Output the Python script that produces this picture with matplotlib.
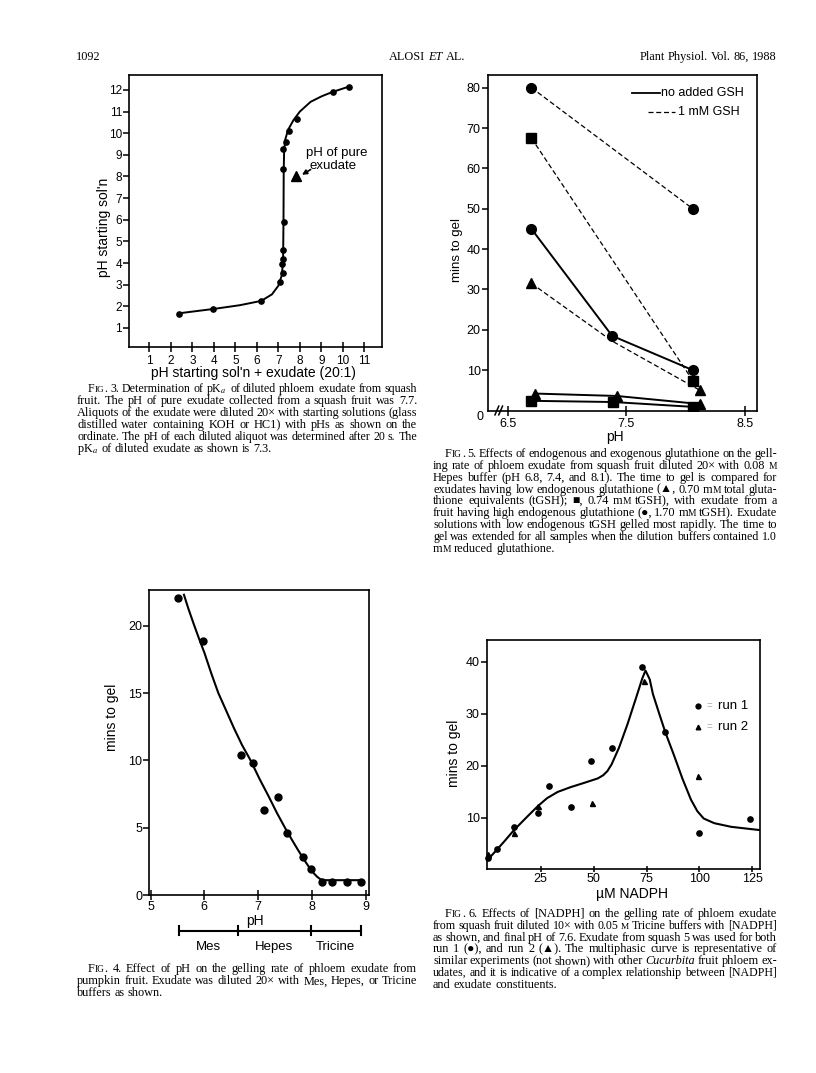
import matplotlib
matplotlib.use('Agg')
import matplotlib.pyplot as plt
import matplotlib.transforms as mtransforms

plt.rcParams['mathtext.fontset'] = 'stix'
SANS = ['Liberation Sans', 'DejaVu Sans']
SERIF = ['Liberation Serif', 'DejaVu Sans']
plt.rcParams['font.family'] = SANS

W, H = 816, 1073

# ---------------- data ----------------
# Fig. 3
f3_x = [2.40, 3.98, 6.19, 7.09, 7.22, 7.15, 7.20, 7.23, 7.25, 7.23, 7.22, 7.34, 7.50, 7.85, 9.56, 10.27]
f3_y = [1.66, 1.86, 2.25, 3.14, 3.54, 3.94, 4.20, 4.60, 5.89, 8.34, 9.26, 9.60, 10.12, 10.66, 11.91, 12.15]
f3_curve_x = [2.40, 4.0, 5.2, 6.2, 6.7, 7.0, 7.15, 7.22, 7.24, 7.25, 7.27, 7.32, 7.45, 7.7, 8.0, 8.5, 9.0, 9.5, 10.27]
f3_curve_y = [1.68, 1.88, 2.05, 2.25, 2.55, 2.95, 3.4, 4.0, 6.0, 8.3, 9.2, 9.7, 10.15, 10.6, 11.0, 11.45, 11.7, 11.9, 12.15]
f3_pure_x, f3_pure_y = [7.82], [8.0]
f3_xticks = list(range(1, 12))
f3_yticks = list(range(1, 13))

# Fig. 5
f5_circ_solid_x = [6.70, 7.38, 8.06]
f5_circ_solid_y = [45.0, 18.5, 10.0]
f5_circ_dash_x = [6.70, 8.06]
f5_circ_dash_y = [80.0, 50.0]
f5_sq_dash_x = [6.70, 8.06]
f5_sq_dash_y = [67.5, 7.4]
f5_tri_dash_x = [6.70, 7.38, 8.12]
f5_tri_dash_y = [31.5, 17.2, 5.0]
f5_tri_solid_x = [6.73, 7.42, 8.12]
f5_tri_solid_y = [4.2, 3.6, 1.6]
f5_sq_solid_x = [6.70, 7.39, 8.06]
f5_sq_solid_y = [2.4, 2.1, 0.9]
f5_xticks = [6.5, 7.5, 8.5]
f5_yticks = [10, 20, 30, 40, 50, 60, 70, 80]

# Fig. 4
f4_x = [5.51, 5.97, 6.69, 6.90, 7.11, 7.38, 7.54, 7.84, 7.98, 8.19, 8.38, 8.66, 8.91]
f4_y = [22.03, 18.86, 10.42, 9.80, 6.31, 7.25, 4.58, 2.85, 1.96, 0.99, 0.99, 0.99, 0.99]
f4_curve_x = [5.62, 5.7, 5.8, 5.9, 6.0, 6.13, 6.26, 6.4, 6.55, 6.7, 6.86, 7.03, 7.2, 7.35, 7.5,
              7.63, 7.75, 7.86, 7.96, 8.04, 8.1, 8.16, 8.22, 8.91]
f4_curve_y = [22.3, 21.3, 20.15, 19.05, 18.0, 16.45, 15.0, 13.75, 12.4, 11.15, 10.0, 8.6, 7.3, 6.1, 5.0,
              4.1, 3.3, 2.6, 2.0, 1.6, 1.35, 1.17, 1.1, 1.1]
f4_buffer_edges = [5.53, 6.63, 7.98, 8.91]
f4_buffers = ['Mes', 'Hepes', 'Tricine']
f4_xticks = [5, 6, 7, 8, 9]
f4_yticks = [0, 5, 10, 15, 20]

# Fig. 6
f6_run1_x = [0, 4.5, 12.2, 23.7, 28.9, 39.3, 48.8, 58.5, 72.9, 83.6, 99.9, 123.9]
f6_run1_y = [2.3, 4.0, 8.2, 11.0, 16.1, 12.2, 21.0, 23.4, 39.0, 26.5, 7.05, 9.75]
f6_run2_x = [0, 12.2, 23.7, 49.4, 73.6, 99.1]
f6_run2_y = [3.0, 7.05, 12.3, 12.9, 36.3, 18.0]
f6_curve_x = [0, 4.5, 8, 12.2, 18, 23.7, 28, 33, 39, 46, 52, 54.5, 56.5, 58.5, 62, 66, 70, 73, 74.5,
              76.5, 78, 81, 84, 88, 92, 96, 99, 102, 107, 115, 128]
f6_curve_y = [2.0, 4.0, 5.6, 7.6, 10.0, 12.3, 13.8, 15.0, 15.9, 16.8, 17.6, 18.2, 19.0, 20.3, 23.5, 28.0, 33.0, 36.8, 38.3,
              36.6, 33.8, 30.0, 26.3, 22.0, 17.5, 13.5, 11.3, 9.9, 9.0, 8.3, 7.7]
f6_xticks = [25, 50, 75, 100, 125]
f6_yticks = [10, 20, 30, 40]

# ---------------- figure ----------------
fig = plt.figure(figsize=(W / 100, H / 100), dpi=100)
renderer = fig.canvas.get_renderer()


def ax_at(x0, y0, x1, y1):
    return fig.add_axes([x0 / W, 1 - y1 / H, (x1 - x0) / W, (y1 - y0) / H])


def fx(px):
    return px / W


def fy(py):
    return 1 - py / H


def style(ax, fs):
    for s in ax.spines.values():
        s.set_linewidth(1.2)
    ax.tick_params(axis='y', direction='out', length=4, width=1.1, pad=1, labelsize=fs)
    ax.tick_params(axis='x', direction='inout', length=7, width=1.1, pad=2, labelsize=fs)


def parse(w):
    segs = []
    cur = ''
    sc = False
    it = False
    for ch in w:
        if ch in '<>~':
            if cur:
                segs.append((cur.upper() if sc else cur, 0.78 if sc else 1.0, it))
                cur = ''
            if ch == '<':
                sc = True
            elif ch == '>':
                sc = False
            else:
                it = not it
        else:
            cur += ch
    if cur:
        segs.append((cur.upper() if sc else cur, 0.78 if sc else 1.0, it))
    return segs


def make_word(w, size):
    items = []
    tot = 0
    for s, scale, it in parse(w):
        t = fig.text(0, 0, s, fontsize=size * scale, family=SERIF,
                     style='italic' if it else 'normal', va='baseline', ha='left')
        wid = t.get_window_extent(renderer).width
        items.append((t, wid))
        tot += wid
    return items, tot


def place_word(items, x, ybase):
    for t, wid in items:
        t.set_position((fx(x), fy(ybase)))
        x += wid


def draw_line(text, x, y, size, align='left'):
    words = text.split(' ')
    built = [make_word(w, size) for w in words]
    space = size * 100 / 72 * 0.25
    total = sum(b[1] for b in built) + space * (len(built) - 1)
    if align == 'center':
        x = x - total / 2
    elif align == 'right':
        x = x - total
    for items, tw in built:
        place_word(items, x, y + size * 0.45)
        x += tw + space


def para(lines, x_left, x_indent, x_right, y0, dy, size=8.8):
    for i, line in enumerate(lines):
        y = y0 + i * dy
        words = line.split(' ')
        start = x_indent if i == 0 else x_left
        last = (i == len(lines) - 1)
        s = size
        while True:
            space = s * 100 / 72 * 0.25
            built = [make_word(w, s) for w in words]
            tot = sum(b[1] for b in built)
            if last or len(built) == 1:
                gap = space
                break
            gap = (x_right - start - tot) / (len(built) - 1)
            if gap >= 0.7 * space or s < 6:
                break
            for items, _ in built:
                for t, _w in items:
                    t.remove()
            s *= 0.97
        x = start
        for items, tw in built:
            place_word(items, x, y + size * 0.45)
            x += tw + gap


# ---------------- header ----------------
draw_line('1092', 76, 56, 8.8, 'left')
draw_line('ALOSI ~ET AL.~', 427, 56, 8.8, 'center')
draw_line('Plant Physiol. Vol. 86, 1988', 777, 56, 8.8, 'right')

# ---------------- Fig. 3 ----------------
ax3 = ax_at(129, 75, 382, 347)
ax3.plot(f3_curve_x, f3_curve_y, color='k', lw=1.4)
ax3.plot(f3_x, f3_y, 'o', color='k', ms=3.8)
ax3.plot(f3_pure_x, f3_pure_y, '^', color='k', ms=7)
ax3.set_xlim(0.056, 11.82)
ax3.set_ylim(0.12, 12.69)
ax3.set_xticks(f3_xticks)
ax3.set_yticks(f3_yticks)
style(ax3, 8.5)
ax3.text(9.7, 9.08, 'pH of pure', ha='center', va='center', fontsize=9.5)
ax3.text(9.55, 8.48, 'exudate', ha='center', va='center', fontsize=9.5)
ax3.annotate('', xy=(8.1, 8.08), xytext=(8.5, 8.32),
             arrowprops=dict(arrowstyle='-|>', lw=1.2, color='k', mutation_scale=7, shrinkA=0, shrinkB=0))
fig.text(fx(104), fy(227), "pH starting sol'n", rotation=90, ha='center', va='center', fontsize=10)
fig.text(fx(253), fy(373), "pH starting sol'n + exudate (20:1)", ha='center', va='center', fontsize=10)

para(['F<IG>. 3. Determination of pK$_a$ of diluted phloem exudate from squash',
      'fruit. The pH of pure exudate collected from a squash fruit was 7.7.',
      'Aliquots of the exudate were diluted 20\u00d7 with starting solutions (glass',
      'distilled water containing KOH or HC1) with pHs as shown on the',
      'ordinate. The pH of each diluted aliquot was determined after 20 s. The',
      'pK$_a$ of diluted exudate as shown is 7.3.'],
     77, 88, 417, 388, 12.1)

# ---------------- Fig. 5 ----------------
ax5 = ax_at(487.7, 75, 757, 410.5)
dash = (0, (4, 2.2))
ax5.plot(f5_circ_dash_x, f5_circ_dash_y, color='k', lw=0.9, ls=dash, marker='o', ms=7)
ax5.plot(f5_sq_dash_x, f5_sq_dash_y, color='k', lw=0.9, ls=dash, marker='s', ms=6.5)
ax5.plot(f5_tri_dash_x, f5_tri_dash_y, color='k', lw=0.9, ls=dash, marker='^', ms=7, markevery=[0, 2])
ax5.plot(f5_circ_solid_x, f5_circ_solid_y, color='k', lw=1.4, marker='o', ms=7)
ax5.plot(f5_tri_solid_x, f5_tri_solid_y, color='k', lw=1.4, marker='^', ms=7)
ax5.plot(f5_sq_solid_x, f5_sq_solid_y, color='k', lw=1.4, marker='s', ms=6.5)
ax5.set_xlim(6.331, 8.601)
ax5.set_ylim(0, 83.15)
ax5.set_xticks(f5_xticks)
ax5.set_yticks(f5_yticks)
style(ax5, 9)
# legend
ax5.plot([7.546, 7.785], [78.6, 78.6], color='k', lw=1.3, clip_on=False)
ax5.text(7.79, 78.6, 'no added GSH', ha='left', va='center', fontsize=9)
ax5.plot([7.684, 7.913], [74.1, 74.1], color='k', lw=0.9, ls=dash)
ax5.text(7.935, 74.1, '1 mM GSH', ha='left', va='center', fontsize=9)
# axis break
for dx in (0.0, 0.014):
    ax5.plot([0.027 + dx, 0.041 + dx], [-0.013, 0.013], color='k', lw=1.1,
             transform=ax5.transAxes, clip_on=False)
fig.text(fx(480), fy(417), '0', ha='center', va='center', fontsize=9)
fig.text(fx(457), fy(250), 'mins to gel', rotation=90, ha='center', va='center', fontsize=9.5)
fig.text(fx(615), fy(437), 'pH', ha='center', va='center', fontsize=10)

para(['F<IG>. 5. Effects of endogenous and exogenous glutathione on the gell-',
      'ing rate of phloem exudate from squash fruit diluted 20\u00d7 with 0.08 <M>',
      'Hepes buffer (pH 6.8, 7.4, and 8.1). The time to gel is compared for',
      'exudates having low endogenous glutathione (\u25b2, 0.70 m<M> total gluta-',
      'thione equivalents (tGSH); \u25a0, 0.74 m<M> tGSH), with exudate from a',
      'fruit having high endogenous glutathione (\u25cf, 1.70 m<M> tGSH). Exudate',
      'solutions with low endogenous tGSH gelled most rapidly. The time to',
      'gel was extended for all samples when the dilution buffers contained 1.0',
      'm<M> reduced glutathione.'],
     433, 445, 777, 453.3, 11.8)

# ---------------- Fig. 4 ----------------
ax4 = ax_at(149, 590, 369.3, 895)
ax4.plot(f4_curve_x, f4_curve_y, color='k', lw=1.5)
ax4.plot(f4_x, f4_y, 'o', color='k', ms=5)
ax4.set_xlim(4.97, 9.07)
ax4.set_ylim(0, 22.65)
ax4.set_xticks(f4_xticks)
ax4.set_yticks(f4_yticks)
style(ax4, 9)
ax4.tick_params(axis='x', pad=0.5)
bt = mtransforms.blended_transform_factory(ax4.transData, ax4.transAxes)
yb = -(930.7 - 895) / 305
ax4.plot([f4_buffer_edges[0], f4_buffer_edges[-1]], [yb, yb], color='k', lw=1.5,
         transform=bt, clip_on=False)
for e in f4_buffer_edges:
    ax4.plot([e, e], [yb - 0.015, yb + 0.015], color='k', lw=1.5, transform=bt, clip_on=False)
for i, name in enumerate(f4_buffers):
    xm = (f4_buffer_edges[i] + f4_buffer_edges[i + 1]) / 2
    ax4.text(xm, -(946.7 - 895) / 305, name, transform=bt, ha='center', va='center', fontsize=9.5)
fig.text(fx(255), fy(920.7), 'pH', ha='center', va='center', fontsize=10)
fig.text(fx(112), fy(717), 'mins to gel', rotation=90, ha='center', va='center', fontsize=10)

para(['F<IG>. 4. Effect of pH on the gelling rate of phloem exudate from',
      'pumpkin fruit. Exudate was diluted 20\u00d7 with Mes, Hepes, or Tricine',
      'buffers as shown.'],
     77, 88, 417, 968.5, 11.8)

# ---------------- Fig. 6 ----------------
ax6 = ax_at(486.7, 640, 760, 869.3)
ax6.plot(f6_curve_x, f6_curve_y, color='k', lw=1.5)
ax6.plot(f6_run1_x, f6_run1_y, 'o', color='k', ms=3.8, clip_on=False)
ax6.plot(f6_run2_x, f6_run2_y, '^', color='k', ms=3.6, clip_on=False)
ax6.set_xlim(-0.52, 128.6)
ax6.set_ylim(0.15, 44.16)
ax6.set_xticks(f6_xticks)
ax6.set_yticks(f6_yticks)
style(ax6, 9)
ax6.tick_params(axis='x', length=5, pad=0.5)
ax6.plot([99.5], [31.4], 'o', color='k', ms=3.5)
ax6.plot([99.5], [27.4], '^', color='k', ms=3.3)
ax6.text(104.5, 31.4, '=', ha='center', va='center', fontsize=7, color='#aaaaaa')
ax6.text(104.5, 27.4, '=', ha='center', va='center', fontsize=7, color='#aaaaaa')
ax6.text(108.9, 31.4, 'run 1', ha='left', va='center', fontsize=9.5)
ax6.text(108.9, 27.4, 'run 2', ha='left', va='center', fontsize=9.5)
fig.text(fx(454), fy(753), 'mins to gel', rotation=90, ha='center', va='center', fontsize=10)
fig.text(fx(632), fy(894), '\u00b5M NADPH', ha='center', va='center', fontsize=10)

para(['F<IG>. 6. Effects of [NADPH] on the gelling rate of phloem exudate',
      'from squash fruit diluted 10\u00d7 with 0.05 <M> Tricine buffers with [NADPH]',
      'as shown, and final pH of 7.6. Exudate from squash 5 was used for both',
      'run 1 (\u25cf), and run 2 (\u25b2). The multiphasic curve is representative of',
      'similar experiments (not shown) with other ~Cucurbita~ fruit phloem ex-',
      'udates, and it is indicative of a complex relationship between [NADPH]',
      'and exudate constituents.'],
     433, 445, 777, 913, 11.8)

fig.savefig('out.png', dpi=100)
